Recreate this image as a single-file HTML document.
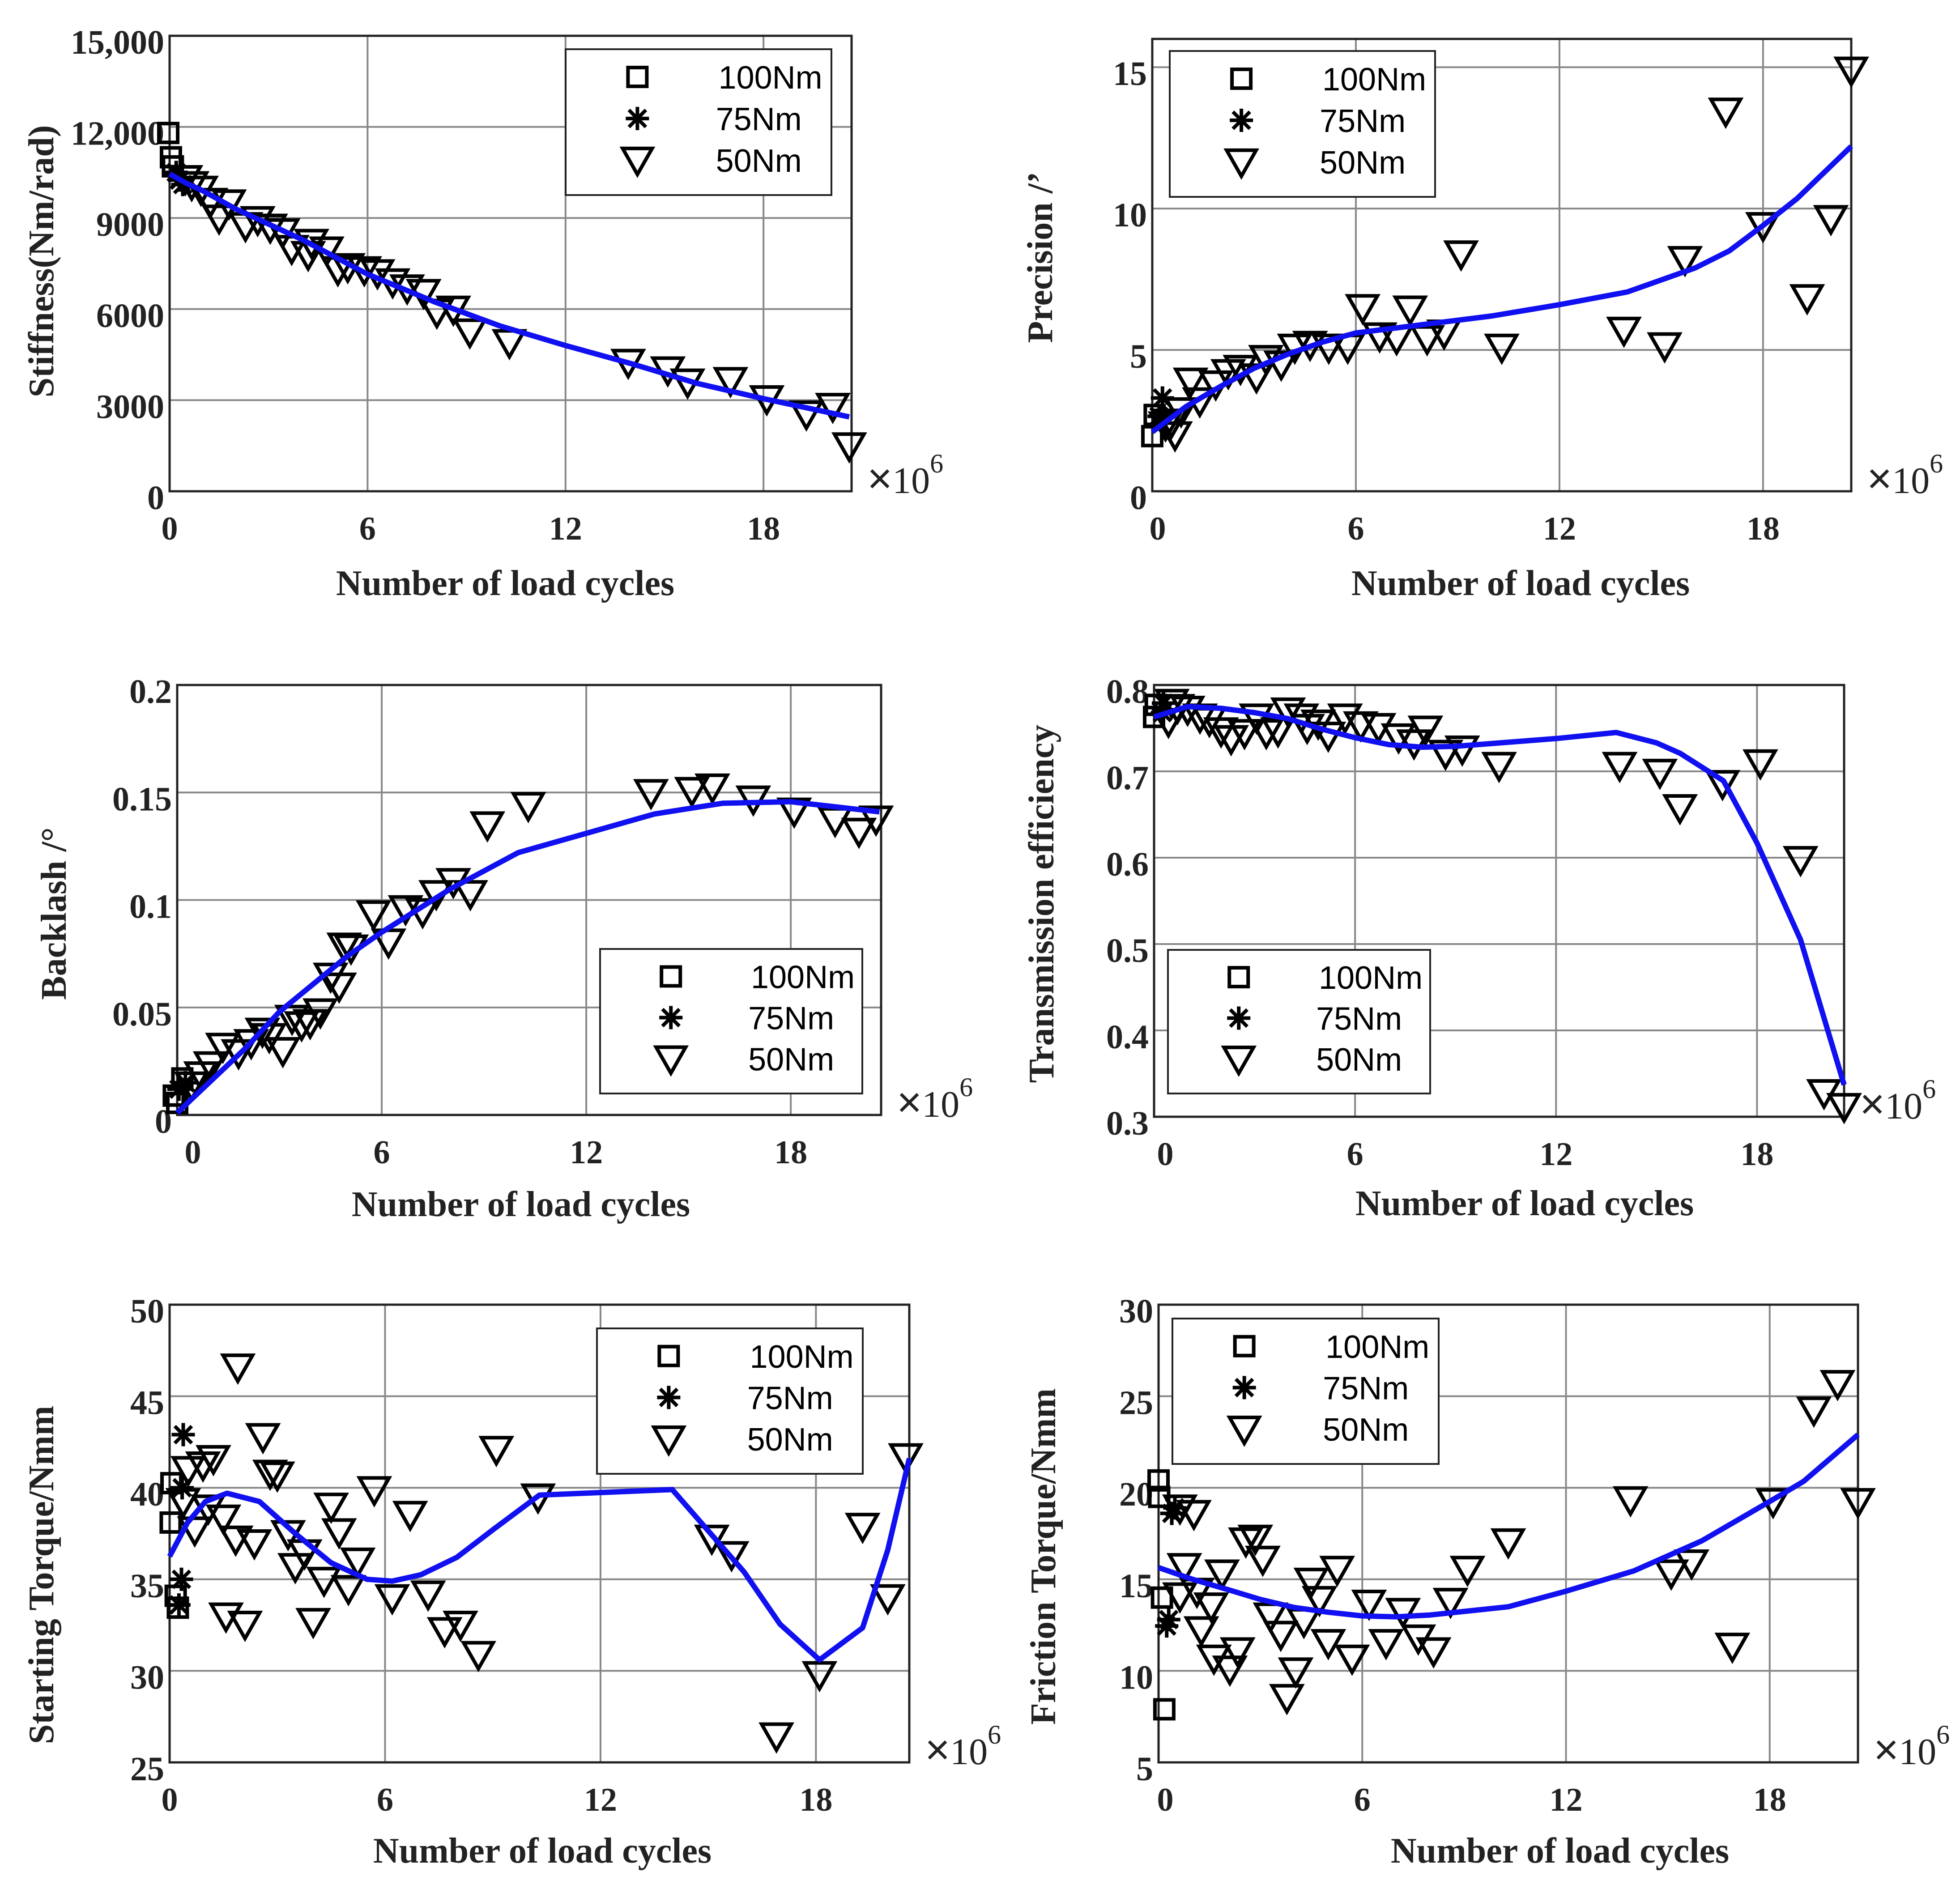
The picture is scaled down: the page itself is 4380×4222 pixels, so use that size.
<!DOCTYPE html>
<html><head><meta charset="utf-8"><style>
html,body{margin:0;padding:0;background:#fff;}
svg{display:block;}
</style></head><body>
<svg id="fig" width="4380" height="4222" viewBox="0 0 4380 4222" xmlns="http://www.w3.org/2000/svg"></svg>
<script>
// ---- Panel 1: Stiffness ----
const p1CurveX=[0,0.5,1,2,3,4,6,8,10,12,14,16,18,20.6];
const p1CurveY=[10450,10150,9900,9300,8800,8300,7150,6250,5450,4800,4200,3550,3050,2450];
const p1TriX=[13.9,15.1,15.7,17.0,18.1,19.3,20.1,20.6,10.3,9.1,8.6,8.1,7.7,7.2,6.76,6.3,5.9,5.4,5.1,4.76,4.3,4.2,3.7,3.43,3.05,2.67,2.3,1.8,1.5,1.24,0.95,0.67,0.48];
const p1TriY=[4250,4000,3600,3650,3050,2550,2800,1500,4900,5250,6000,5900,6550,6700,6900,7200,7300,7400,7300,7950,8200,7800,8000,8550,8700,8950,8750,9500,9000,9550,9950,10100,10300];
const p1SqX=[-0.04,0.04,0.1];
const p1SqY=[11800,11000,10700];
const p1StX=[0.2,0.3,0.4];
const p1StY=[10500,10250,10100];
const p1YTicks=[0,3000,6000,9000,12000,15000];
const p1YLabels=["0","3000","6000","9000","12,000","15,000"];

// ---- Panel 2: Precision ----
const p2CurveX=[0,1,2,3,4,5,6,8,10,12,14,16,17,18,19,20.6];
const p2CurveY=[2.1,3.0,3.7,4.35,4.85,5.27,5.6,5.9,6.2,6.6,7.05,7.9,8.5,9.4,10.35,12.2];
const p2TriX=[20.6,16.9,20.0,18.0,19.3,15.7,9.1,13.9,15.1,10.3,6.2,7.6,6.7,7.2,8.1,8.6,5.76,5.2,4.65,4.2,3.8,3.35,3.07,2.6,2.24,1.87,1.4,1.13,0.85,0.57,0.67,0.39];
const p2TriY=[14.9,13.45,9.65,9.4,6.85,8.2,8.4,5.7,5.15,5.1,6.5,6.45,5.5,5.4,5.4,5.6,5.1,5.1,5.2,5.1,4.5,4.7,4.05,4.35,4.2,3.8,3.2,3.9,2.85,2.45,2.0,2.35];
const p2SqX=[0,0.07];
const p2SqY=[1.95,2.7];
const p2StX=[0.3,0.2];
const p2StY=[3.3,2.65];
const p2YTicks=[0,5,10,15];
const p2YLabels=["0","5","10","15"];

// ---- Panel 3: Backlash ----
const p3CurveX=[0,2,3,4,5,6,8,10,12,14,16,18,20.6];
const p3CurveY=[0.001,0.031,0.048,0.061,0.074,0.085,0.105,0.122,0.131,0.140,0.145,0.1457,0.141];
const p3TriX=[13.9,15.1,15.7,16.9,18.1,19.3,20.0,20.5,10.3,9.1,8.6,8.1,7.6,7.2,6.7,6.2,5.76,5.1,4.9,4.75,4.5,4.2,3.9,3.65,3.37,3.1,2.7,2.5,2.17,1.8,1.34,0.98,0.7,0.42];
const p3TriY=[0.150,0.151,0.1526,0.147,0.1414,0.137,0.132,0.1377,0.144,0.135,0.103,0.1086,0.103,0.0946,0.096,0.0805,0.0936,0.0777,0.0786,0.060,0.0646,0.048,0.043,0.042,0.045,0.030,0.0365,0.039,0.0337,0.029,0.032,0.0234,0.0187,0.014];
const p3SqX=[-0.1,0,0.15];
const p3SqY=[0.009,0.0056,0.017];
const p3StX=[0.05,0.24];
const p3StY=[0.012,0.015];
const p3YTicks=[0,0.05,0.1,0.15,0.2];
const p3YLabels=["0","0.05","0.1","0.15","0.2"];

// ---- Panel 4: Transmission efficiency ----
const p4CurveX=[0,1,2,3,4,5,6,7,8,9,10,12,13.8,15,15.7,17,18,19.3,20.6];
const p4CurveY=[0.763,0.775,0.773,0.768,0.761,0.749,0.739,0.731,0.728,0.729,0.732,0.738,0.745,0.733,0.721,0.689,0.617,0.505,0.337];
const p4TriX=[20.6,20.0,19.3,18.1,16.97,15.7,15.1,13.9,10.3,9.2,8.7,8.1,7.76,7.3,6.7,6.17,5.7,5.2,4.9,4.57,4.4,4.0,3.7,3.35,3.06,2.7,2.3,2.0,1.65,1.37,1.0,0.7,0.43,0.53];
const p4TriY=[0.312,0.328,0.598,0.710,0.686,0.658,0.699,0.707,0.707,0.726,0.721,0.749,0.733,0.740,0.752,0.754,0.763,0.742,0.756,0.751,0.763,0.770,0.747,0.745,0.763,0.745,0.738,0.747,0.759,0.763,0.772,0.774,0.758,0.780];
const p4SqX=[0,0.05];
const p4SqY=[0.763,0.777];
const p4StX=[0.25,0.28];
const p4StY=[0.768,0.779];
const p4YTicks=[0.3,0.4,0.5,0.6,0.7,0.8];
const p4YLabels=["0.3","0.4","0.5","0.6","0.7","0.8"];

// ---- Panel 5: Starting torque ----
const p5CurveX=[0,0.5,1,1.6,2.5,3.5,4.5,5.5,6.2,7,8,9,10.3,14,15.2,16,17,18.1,19.3,20,20.6];
const p5CurveY=[36.25,38.1,39.25,39.7,39.25,37.5,35.9,35.0,34.9,35.25,36.2,37.7,39.6,39.9,37.2,35.4,32.55,30.6,32.35,36.6,41.6];
const p5TriX=[20.5,20.0,19.3,18.1,16.9,15.65,15.1,10.26,9.1,8.6,8.1,7.66,7.2,6.7,6.2,5.7,5.24,4.98,4.72,4.5,4.3,4.0,3.76,3.5,3.3,3.0,2.8,2.6,2.36,2.1,1.84,1.9,1.57,1.5,1.22,1.08,0.93,0.7,0.52,0.38];
const p5TriY=[41.7,34.0,37.9,29.8,26.45,36.35,37.25,39.5,42.1,30.9,32.55,32.2,34.2,38.55,34.0,39.9,36.0,34.5,37.6,39.0,34.95,32.7,36.45,35.7,37.5,40.7,40.8,42.8,37.0,32.55,37.2,46.6,33.0,38.35,41.6,38.9,41.25,37.7,41.0,39.25];
const p5SqX=[0.05,0.03,0.17,0.23];
const p5SqY=[40.25,38.1,34.1,33.45];
const p5StX=[0.38,0.33,0.35,0.26];
const p5StY=[42.9,35.0,40.0,33.6];
const p5YTicks=[25,30,35,40,45,50];
const p5YLabels=["25","30","35","40","45","50"];

// ---- Panel 6: Friction torque ----
const p6CurveX=[0,1,2,3,4,5,6,7,8,10.3,12,14,16,18,19,20.6];
const p6CurveY=[15.64,15.0,14.46,13.9,13.46,13.2,13.0,12.95,13.05,13.5,14.35,15.46,17.1,19.25,20.35,22.9];
const p6TriX=[20.0,19.3,20.6,18.1,13.9,16.9,15.7,15.1,10.3,9.1,8.6,8.1,7.65,7.2,6.7,6.2,5.7,5.26,5.0,4.74,4.5,4.28,4.04,3.78,3.6,3.3,3.07,2.85,2.57,2.33,2.1,1.87,1.63,1.55,1.26,1.13,1.04,0.76,0.63,0.63];
const p6TriY=[25.7,24.25,19.25,19.25,19.35,11.35,15.9,15.35,17.05,15.55,13.8,11.1,11.8,13.25,11.55,13.7,10.7,15.55,11.55,13.9,14.9,12.7,10.0,8.55,12.0,13.0,16.1,17.25,17.1,11.1,10.1,15.35,10.7,13.55,12.25,14.35,18.6,15.7,18.9,14.1];
const p6SqX=[0,0.02,0.1,0.17];
const p6SqY=[20.4,19.5,14.0,7.9];
const p6StX=[0.39,0.3,0.24,0.48];
const p6StY=[18.6,12.8,12.45,18.9];
const p6YTicks=[5,10,15,20,25,30];
const p6YLabels=["5","10","15","20","25","30"];

const xTicks=[0,6,12,18];
const xLabels=["0","6","12","18"];

const NS="http://www.w3.org/2000/svg";
const svg=document.getElementById('fig');
function mk(tag,attrs,parent){const e=document.createElementNS(NS,tag);for(const k in attrs)e.setAttribute(k,attrs[k]);(parent||svg).appendChild(e);return e;}

const panels=[
 {id:'stiffness',L:379,R:1903,T:80,B:1098,ymin:0,ymax:15000,xmax:20.67,
  cx:p1CurveX,cy:p1CurveY,tx:p1TriX,ty:p1TriY,sx:p1SqX,sy:p1SqY,stx:p1StX,sty:p1StY,yt:p1YTicks,yl:p1YLabels,
  title:'Stiffness(Nm/rad)',ytx:91,yty:584,xtx:1129,xty:1302,x0off:0,leg:[1264,110,594,326]},
 {id:'precision',L:2575,R:4137,T:87,B:1098,ymin:0,ymax:16,xmax:20.6,
  cx:p2CurveX,cy:p2CurveY,tx:p2TriX,ty:p2TriY,sx:p2SqX,sy:p2SqY,stx:p2StX,sty:p2StY,yt:p2YTicks,yl:p2YLabels,
  title:'Precision /\u2019',ytx:2323,yty:575,xtx:3398,xty:1302,x0off:12,leg:[2614,114,593,326]},
 {id:'backlash',L:396,R:1969,T:1531,B:2492,ymin:0,ymax:0.2,xmax:20.65,
  cx:p3CurveX,cy:p3CurveY,tx:p3TriX,ty:p3TriY,sx:p3SqX,sy:p3SqY,stx:p3StX,sty:p3StY,yt:p3YTicks,yl:p3YLabels,
  title:'Backlash /\u00b0',ytx:119,yty:2042,xtx:1164,xty:2690,x0off:35,leg:[1341,2121,586,323]},
 {id:'efficiency',L:2579,R:4121,T:1531,B:2496,ymin:0.3,ymax:0.8,xmax:20.6,
  cx:p4CurveX,cy:p4CurveY,tx:p4TriX,ty:p4TriY,sx:p4SqX,sy:p4SqY,stx:p4StX,sty:p4StY,yt:p4YTicks,yl:p4YLabels,
  title:'Transmission efficiency',ytx:2326,yty:2020,xtx:3407,xty:2688,x0off:25,leg:[2610,2123,586,321]},
 {id:'starting-torque',L:379,R:2032,T:2916,B:3939,ymin:25,ymax:50,xmax:20.6,
  cx:p5CurveX,cy:p5CurveY,tx:p5TriX,ty:p5TriY,sx:p5SqX,sy:p5SqY,stx:p5StX,sty:p5StY,yt:p5YTicks,yl:p5YLabels,
  title:'Starting Torque/Nmm',ytx:91,yty:3520,xtx:1212,xty:4135,x0off:0,leg:[1334,2969,594,325]},
 {id:'friction-torque',L:2589,R:4152,T:2916,B:3939,ymin:5,ymax:30,xmax:20.6,
  cx:p6CurveX,cy:p6CurveY,tx:p6TriX,ty:p6TriY,sx:p6SqX,sy:p6SqY,stx:p6StX,sty:p6StY,yt:p6YTicks,yl:p6YLabels,
  title:'Friction Torque/Nmm',ytx:2330,yty:3479,xtx:3486,xty:4135,x0off:15,leg:[2620,2947,595,325]}
];

function tri(g,cx,cy){const e=mk('polygon',{points:`${cx-33},${cy-26} ${cx+33},${cy-26} ${cx},${cy+32}`,fill:'none',stroke:'#000','stroke-width':8,'stroke-linejoin':'miter'},g);return e;}
function sq(g,cx,cy){const e=mk('rect',{x:cx-21,y:cy-21,width:42,height:42,fill:'none',stroke:'#000','stroke-width':8},g);return e;}
function star(g,cx,cy){const r=26,d=19;const e=mk('path',{d:`M${cx-r},${cy}H${cx+r}M${cx},${cy-r}V${cy+r}M${cx-d},${cy-d}L${cx+d},${cy+d}M${cx-d},${cy+d}L${cx+d},${cy-d}`,stroke:'#000','stroke-width':8,fill:'none'},g);return e;}

panels.forEach(p=>{
  const g=mk('g',{});
  
  
  const X=v=>p.L+(v-0)/(p.xmax-0)*(p.R-p.L);
  const Y=v=>p.B-(v-p.ymin)/(p.ymax-p.ymin)*(p.B-p.T);
  xTicks.forEach((t,i)=>{
    if(t>0){const l=mk('line',{x1:X(t),x2:X(t),y1:p.T,y2:p.B,stroke:'#888','stroke-width':4},g);
    
    }
    const tx=mk('text',{x:X(t)+(t===0?p.x0off:0),y:p.B+108,'text-anchor':'middle','font-family':'"Liberation Serif",serif','font-weight':'bold','font-size':74,fill:'#222'},g);
    tx.textContent=xLabels[i];
    
    
  });
  p.yt.forEach((t,i)=>{
    if(t>p.ymin&&t<p.ymax){const l=mk('line',{x1:p.L,x2:p.R,y1:Y(t),y2:Y(t),stroke:'#888','stroke-width':4},g);
    
    }
    const tx=mk('text',{x:p.L-12,y:Y(t)+40,'text-anchor':'end','font-family':'"Liberation Serif",serif','font-weight':'bold','font-size':76,fill:'#222'},g);
    tx.textContent=p.yl[i];
    
    
  });
  const box=mk('rect',{x:p.L,y:p.T,width:p.R-p.L,height:p.B-p.T,fill:'none',stroke:'#222','stroke-width':5},g);
  
  
  p.tx.forEach((v,i)=>tri(g,X(v),Y(p.ty[i])));
  p.sx.forEach((v,i)=>sq(g,X(v),Y(p.sy[i])));
  p.stx.forEach((v,i)=>star(g,X(v),Y(p.sty[i])));
  const pts=p.cx.map((v,i)=>X(v)+','+Y(p.cy[i])).join(' ');
  const c=mk('polyline',{points:pts,fill:'none',stroke:'#1010f0','stroke-width':12,'stroke-linejoin':'round'},g);
  
  
  const ex=mk('text',{x:p.R+35,y:p.B+4,'font-family':'"Liberation Serif",serif','font-size':84,fill:'#222'},g);
  ex.innerHTML='<tspan font-family="Liberation Sans, sans-serif" font-size="96">\u00d7</tspan>10<tspan dy="-46" font-size="60">6</tspan>';
  
  
  const xt=mk('text',{x:p.xtx,y:p.xty+28,'text-anchor':'middle','font-family':'"Liberation Serif",serif','font-weight':'bold','font-size':80,fill:'#222'},g);
  xt.textContent='Number of load cycles';
  
  
  const yt=mk('text',{x:p.ytx+28,y:p.yty,'text-anchor':'middle','font-family':'"Liberation Serif",serif','font-weight':'bold','font-size':80,fill:'#222',transform:`rotate(-90 ${p.ytx+28} ${p.yty})`},g);
  yt.textContent=p.title;
  
  
  const [lx,ly,lw,lh]=p.leg;
  const lg=mk('g',{},g);
  
  
  mk('rect',{x:lx,y:ly,width:lw,height:lh,fill:'#fff',stroke:'#222','stroke-width':4},lg);
  const names=['100Nm','75Nm','50Nm'];const fr=[0.19,0.475,0.76];
  names.forEach((n,i)=>{
    const my=ly+lh*fr[i], mx=lx+lw*0.27;
    if(i===0)sq(lg,mx,my);else if(i===1)star(lg,mx,my);else tri(lg,mx,my);
    const t=mk('text',{x:lx+lw*(i===0?0.575:0.565),y:my+26,'font-family':'"Liberation Sans",sans-serif','font-size':72,fill:'#000'},lg);
    t.textContent=n;
    
    
  });
});
</script>
</body></html>
